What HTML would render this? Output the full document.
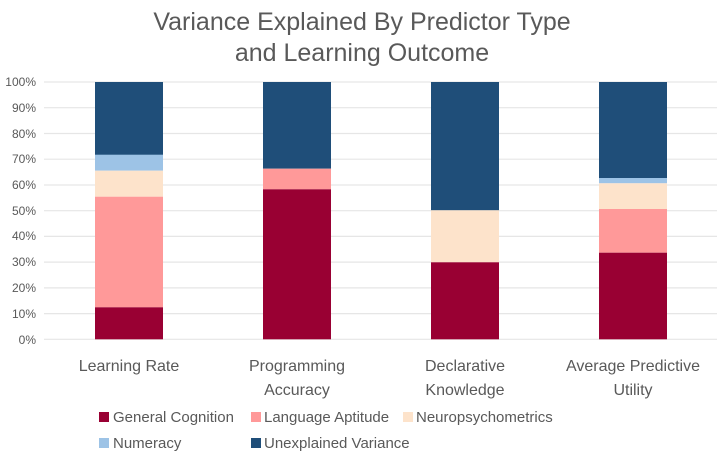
<!DOCTYPE html>
<html><head><style>
body{margin:0;background:#fff;}
svg text{font-family:"Liberation Sans",sans-serif;fill:#595959;}
</style></head><body>
<svg width="724" height="464" viewBox="0 0 724 464" xmlns="http://www.w3.org/2000/svg">
<text x="362" y="30" font-size="25" text-anchor="middle">Variance Explained By Predictor Type</text>
<text x="362" y="61" font-size="25" text-anchor="middle">and Learning Outcome</text>
<g stroke="#e6e6e6" stroke-width="1.2">
<line x1="44" x2="717" y1="82" y2="82"/><line x1="44" x2="717" y1="107.7" y2="107.7"/>
<line x1="44" x2="717" y1="133.5" y2="133.5"/><line x1="44" x2="717" y1="159.2" y2="159.2"/>
<line x1="44" x2="717" y1="185" y2="185"/><line x1="44" x2="717" y1="210.7" y2="210.7"/>
<line x1="44" x2="717" y1="236.4" y2="236.4"/><line x1="44" x2="717" y1="262.1" y2="262.1"/>
<line x1="44" x2="717" y1="287.9" y2="287.9"/><line x1="44" x2="717" y1="313.6" y2="313.6"/>
<line x1="44" x2="717" y1="339.3" y2="339.3"/>
</g>
<g font-size="12" text-anchor="end">
<text x="36" y="86">100%</text><text x="36" y="112">90%</text><text x="36" y="138">80%</text>
<text x="36" y="163">70%</text><text x="36" y="189">60%</text><text x="36" y="215">50%</text>
<text x="36" y="240">40%</text><text x="36" y="266">30%</text><text x="36" y="292">20%</text>
<text x="36" y="318">10%</text><text x="36" y="344">0%</text>
</g>
<rect x="95" y="82" width="68" height="73" fill="#1f4e79"/>
<rect x="95" y="154.7" width="68" height="16" fill="#9dc3e6"/>
<rect x="95" y="170.7" width="68" height="26" fill="#fde3cb"/>
<rect x="95" y="196.7" width="68" height="110.6" fill="#ff9999"/>
<rect x="95" y="307.3" width="68" height="32" fill="#990033"/>
<rect x="263" y="82" width="68" height="86.7" fill="#1f4e79"/>
<rect x="263" y="168.7" width="68" height="20.6" fill="#ff9999"/>
<rect x="263" y="189.3" width="68" height="150" fill="#990033"/>
<rect x="431" y="82" width="68" height="128.3" fill="#1f4e79"/>
<rect x="431" y="210.3" width="68" height="52" fill="#fde3cb"/>
<rect x="431" y="262.3" width="68" height="77" fill="#990033"/>
<rect x="599" y="82" width="68" height="96" fill="#1f4e79"/>
<rect x="599" y="178" width="68" height="5.3" fill="#9dc3e6"/>
<rect x="599" y="183.3" width="68" height="25.7" fill="#fde3cb"/>
<rect x="599" y="209" width="68" height="43.7" fill="#ff9999"/>
<rect x="599" y="252.7" width="68" height="86.6" fill="#990033"/>
<g font-size="16" text-anchor="middle">
<text x="129" y="371">Learning Rate</text>
<text x="297" y="371">Programming</text><text x="297" y="395">Accuracy</text>
<text x="465" y="371">Declarative</text><text x="465" y="395">Knowledge</text>
<text x="633" y="371">Average Predictive</text><text x="633" y="395">Utility</text>
</g>
<g font-size="15">
<rect x="99" y="412" width="10" height="10" fill="#990033"/><text x="113" y="422">General Cognition</text>
<rect x="251" y="412" width="10" height="10" fill="#ff9999"/><text x="264" y="422">Language Aptitude</text>
<rect x="403" y="412" width="10" height="10" fill="#fde3cb"/><text x="416" y="422">Neuropsychometrics</text>
<rect x="99" y="438" width="10" height="10" fill="#9dc3e6"/><text x="113" y="448">Numeracy</text>
<rect x="251" y="438" width="10" height="10" fill="#1f4e79"/><text x="264" y="448">Unexplained Variance</text>
</g>
</svg>
</body></html>
